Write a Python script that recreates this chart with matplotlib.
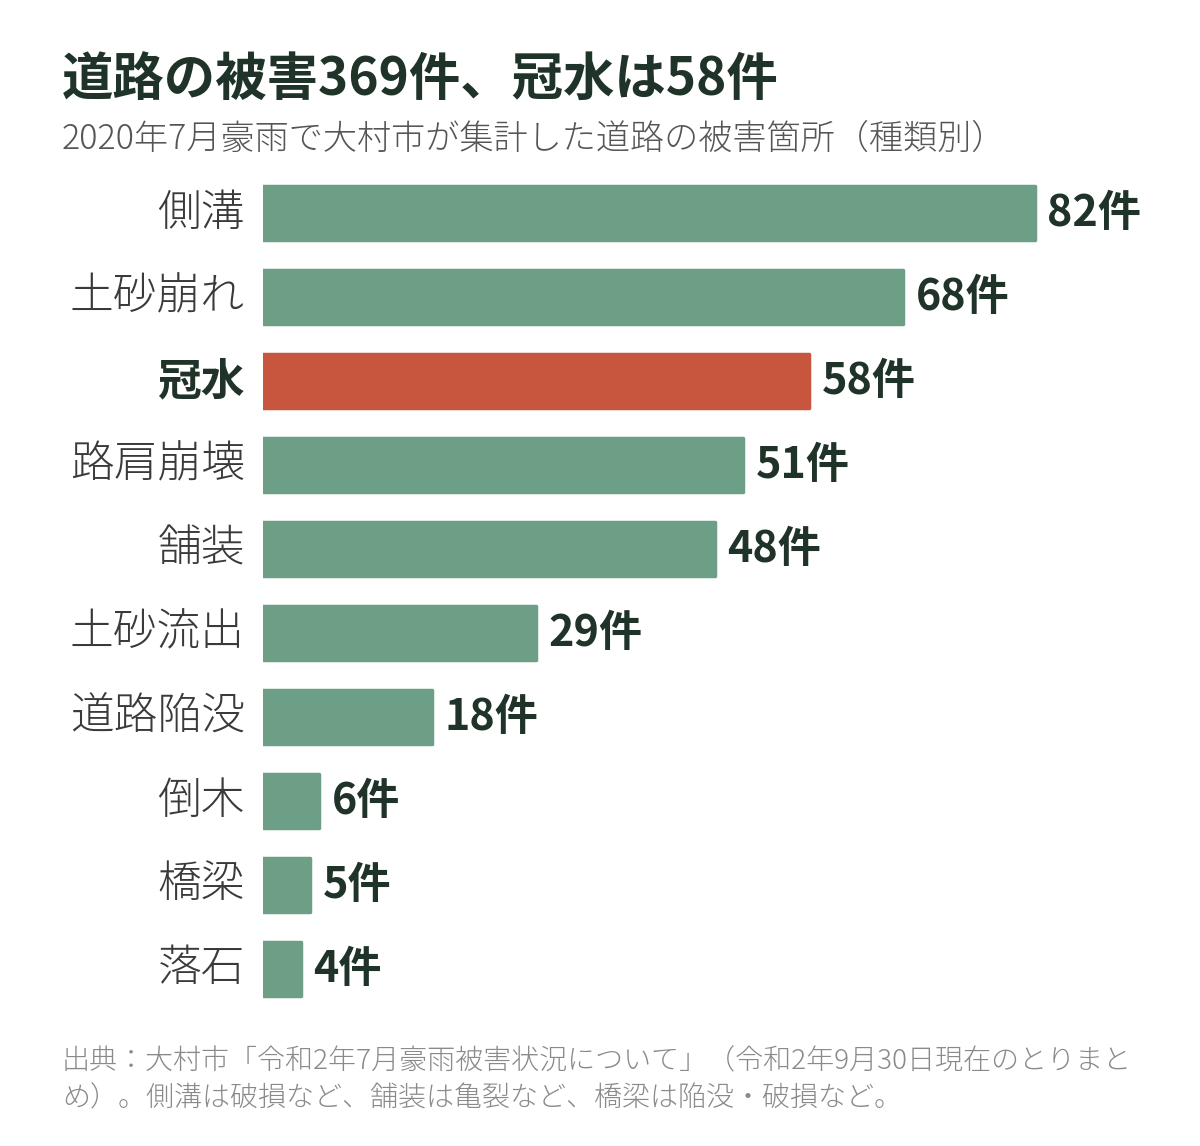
import matplotlib
matplotlib.use('Agg')
import matplotlib.pyplot as plt

plt.rcParams['font.family'] = ['Noto Sans CJK JP', 'DejaVu Sans']

# data
categories = ['側溝', '土砂崩れ', '冠水', '路肩崩壊', '舗装', '土砂流出', '道路陥没', '倒木', '橋梁', '落石']
counts = [82, 68, 58, 51, 48, 29, 18, 6, 5, 4]
highlight = '冠水'

TITLE = '道路の被害369件、冠水は58件'
SUBTITLE = '2020年7月豪雨で大村市が集計した道路の被害箇所（種類別）'
FOOTER = ('出典：大村市「令和2年7月豪雨被害状況について」（令和2年9月30日現在のとりまと\n'
          'め）。側溝は破損など、舗装は亀裂など、橋梁は陥没・破損など。')

GREEN = '#6d9f86'
RED = '#c8553d'
DARK = '#1f3329'
GREY_TXT = '#3a3a3a'

W, H = 1200, 1146
fig = plt.figure(figsize=(W / 100, H / 100), dpi=100)
fig.patch.set_facecolor('white')

# axes placed in pixel terms: bars start at x=262, rows 84px apart
left, right = 263, 1200
top, bottom = 171, 1011
ax = fig.add_axes([left / W, 1 - bottom / H, (right - left) / W, (bottom - top) / H])
px_per_unit = (1035 - 263) / 82
ax.set_xlim(0, (right - left) / px_per_unit)
ax.set_ylim(len(categories) - 0.5, -0.5)
ax.axis('off')

colors = [RED if c == highlight else GREEN for c in categories]
ypos = list(range(len(categories)))
bars = ax.barh(ypos, counts, height=0.64, color=colors, edgecolor=colors,
               linewidth=2.5, joinstyle='round')

for y, c, v in zip(ypos, categories, counts):
    bold = c == highlight
    ax.annotate(c, xy=(0, y), xytext=(-13, 0), textcoords='offset points',
                ha='right', va='center', fontsize=31.5,
                fontweight='bold' if bold else 'light',
                color=DARK if bold else GREY_TXT)
    ax.annotate(f'{v}件', xy=(v, y), xytext=(9, 0), textcoords='offset points',
                ha='left', va='center', fontsize=31, fontweight='bold', color=DARK)

fig.text(62 / W, 1 - 80 / H, TITLE, ha='left', va='center', fontsize=37,
         fontweight='bold', color=DARK)
fig.text(62 / W, 1 - 139 / H, SUBTITLE, ha='left', va='center', fontsize=24.6,
         fontweight='light', color='#555555')
fig.text(62 / W, 1 - 1080 / H, FOOTER, ha='left', va='center', fontsize=20.2,
         fontweight='light', color='#8a8a8a', linespacing=1.42)

fig.savefig('out.png', dpi=100, facecolor='white')
